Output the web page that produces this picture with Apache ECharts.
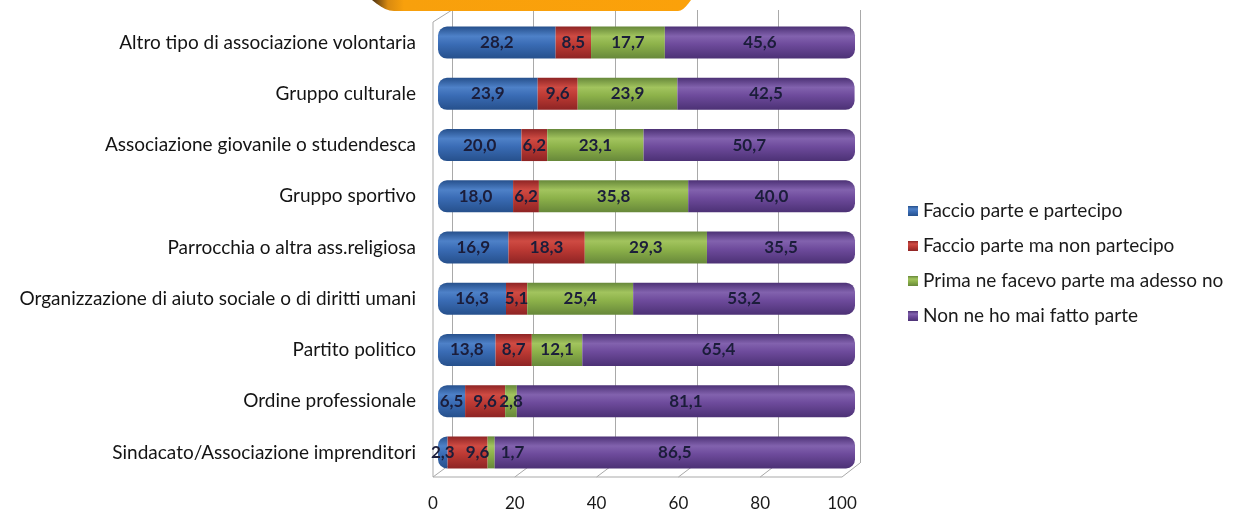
<!DOCTYPE html>
<html>
<head>
<meta charset="utf-8">
<script src="https://cdn.jsdelivr.net/npm/echarts@6/dist/echarts.min.js"></script>
<style>
  html, body { margin: 0; padding: 0; background: #ffffff; }
  #chart { width: 1254px; height: 515px; }
</style>
</head>
<body>
<div id="chart"></div>
<script>
// Categories, top to bottom
const categories = [
  'Altro tipo di associazione volontaria',
  'Gruppo culturale',
  'Associazione giovanile o studendesca',
  'Gruppo sportivo',
  'Parrocchia o altra ass.religiosa',
  'Organizzazione di aiuto sociale o di diritti umani',
  'Partito politico',
  'Ordine professionale',
  'Sindacato/Associazione imprenditori'
];

const seriesNames = [
  'Faccio parte e partecipo',
  'Faccio parte ma non partecipo',
  'Prima ne facevo parte ma adesso no',
  'Non ne ho mai fatto parte'
];

// Percentages per category
const partecipo    = [28.2, 23.9, 20.0, 18.0, 16.9, 16.3, 13.8, 6.5, 2.3];
const nonPartecipo = [8.5, 9.6, 6.2, 6.2, 18.3, 5.1, 8.7, 9.6, 9.6];
const primaSi      = [17.7, 23.9, 23.1, 35.8, 29.3, 25.4, 12.1, 2.8, 1.7];
const maiFatto     = [45.6, 42.5, 50.7, 40.0, 35.5, 53.2, 65.4, 81.1, 86.5];

const xTicks = [0, 20, 40, 60, 80, 100];

const FONT = 'Lato, "Open Sans", sans-serif';

// Cylinder-like shading: dark rim, light band near the top, dark bottom
function tube(dark, mid, light) {
  return {
    type: 'linear', x: 0, y: 0, x2: 0, y2: 1,
    colorStops: [
      { offset: 0, color: dark },
      { offset: 0.3, color: light },
      { offset: 0.55, color: mid },
      { offset: 1, color: dark }
    ]
  };
}
const palettes = [
  ['#26508c', '#3a6cb5', '#4e81c8'],
  ['#8e2424', '#bd3a34', '#cf4b43'],
  ['#67883a', '#8db24a', '#a2c45e'],
  ['#4c3175', '#6e4b9c', '#8262ae']
];

const values = [partecipo, nonPartecipo, primaSi, maiFatto];
const fmt = v => v.toFixed(1).replace('.', ',');

// Label placement: tiny segments put their label just past the segment;
// a segment following a tiny first segment nudges its label right to keep clear.
function labelFor(i, j, v) {
  if (v < 2) return { position: 'right', distance: 6 };
  if (i === 1 && values[0][j] < 4) return { position: 'inside', offset: [10, 0] };
  return { position: 'inside' };
}

const series = values.map((arr, i) => ({
  name: seriesNames[i],
  type: 'bar',
  stack: 'tot',
  barWidth: 32,
  xAxisIndex: 0,
  yAxisIndex: 0,
  itemStyle: {
    color: tube(palettes[i][0], palettes[i][1], palettes[i][2]),
    borderRadius: i === 0 ? [9, 0, 0, 9] : (i === 3 ? [0, 9, 9, 0] : 0)
  },
  label: {
    show: true,
    formatter: p => fmt(p.value),
    fontFamily: FONT,
    fontWeight: 'bold',
    fontSize: 17,
    color: '#1b1d3a'
  },
  data: arr.map((v, j) => ({ value: v, label: labelFor(i, j, v) }))
}));

const chart = echarts.init(document.getElementById('chart'), null, { renderer: 'canvas' });

const lineStyle = { stroke: '#a9a9a9', lineWidth: 1 };
const floorSlants = xTicks.map((t, k) => ({
  type: 'line',
  shape: { x1: 452 + k * 81.6, y1: 463, x2: 433 + k * 81.8, y2: 477 },
  style: lineStyle, silent: true
}));

// Outline of the orange banner edge peeking in at the top
function bannerPoints() {
  const pts = [[372, 0]];
  for (let t = 0; t <= 1.0001; t += 0.1) {
    pts.push([372 + 22 * t, 11 * Math.sin(t * Math.PI / 2)]);
  }
  pts.push([678, 11]);
  for (let t = 0; t <= 1.0001; t += 0.1) {
    pts.push([678 + 13 * t, 11 * Math.cos(t * Math.PI / 2)]);
  }
  return pts;
}

chart.setOption({
  animation: false,
  backgroundColor: '#ffffff',
  legend: {
    orient: 'vertical',
    left: 903,
    top: 195,
    itemWidth: 10,
    itemHeight: 10,
    itemGap: 13,
    icon: 'rect',
    data: seriesNames,
    textStyle: {
      fontFamily: FONT,
      fontSize: 19,
      color: '#1a1a1a',
      lineHeight: 22
    }
  },
  grid: [
    { left: 438, width: 417, top: 17, height: 461 },
    { left: 452, width: 408, top: 10, height: 453 },
    { left: 433, width: 409, top: 470, height: 10 }
  ],
  xAxis: [
    { type: 'value', gridIndex: 0, min: 0, max: 100, interval: 20, show: false },
    {
      type: 'value', gridIndex: 1, min: 0, max: 100, interval: 20,
      axisLine: { show: false }, axisTick: { show: false }, axisLabel: { show: false },
      splitLine: { show: true, lineStyle: { color: '#a9a9a9', width: 1 } }
    },
    {
      type: 'value', gridIndex: 2, min: 0, max: 100, interval: 20,
      axisLine: { show: false }, axisTick: { show: false },
      splitLine: { show: false },
      axisLabel: {
        margin: 15,
        fontFamily: FONT,
        fontSize: 17,
        color: '#1a1a1a'
      }
    }
  ],
  yAxis: [
    {
      type: 'category', gridIndex: 0, inverse: true, data: categories,
      axisLine: { show: false }, axisTick: { show: false },
      axisLabel: {
        margin: 22,
        fontFamily: FONT,
        fontSize: 19,
        color: '#141414'
      }
    },
    { type: 'value', gridIndex: 1, min: 0, max: 1, show: false },
    { type: 'value', gridIndex: 2, min: 0, max: 1, show: false }
  ],
  series: series,
  graphic: [
    {
      type: 'polygon', silent: true, z: 100,
      shape: { points: bannerPoints() },
      style: {
        fill: {
          type: 'linear', x: 0, y: 0, x2: 1, y2: 0,
          colorStops: [
            { offset: 0, color: '#4a3010' },
            { offset: 0.05, color: '#d98a10' },
            { offset: 0.1, color: '#f8a00c' },
            { offset: 1, color: '#fba10a' }
          ]
        }
      }
    },
    // left wall and floor
    { type: 'line', silent: true, shape: { x1: 433, y1: 22, x2: 433, y2: 477 }, style: lineStyle },
    { type: 'line', silent: true, shape: { x1: 433, y1: 22, x2: 452, y2: 10 }, style: lineStyle },
    { type: 'line', silent: true, shape: { x1: 433, y1: 477, x2: 842, y2: 477 }, style: lineStyle }
  ].concat(floorSlants)
});
</script>
</body>
</html>
